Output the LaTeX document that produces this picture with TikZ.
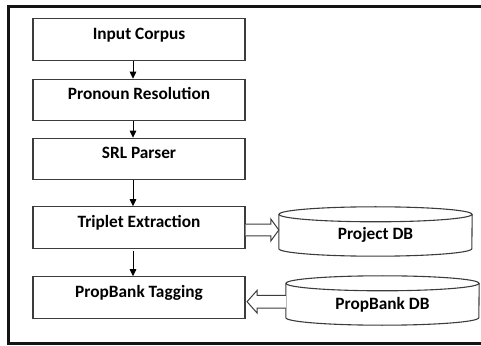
\documentclass[tikz,border=0pt]{standalone}
\usepackage{fontspec}
\setmainfont{Carlito}
\usepackage{tikz}
\usetikzlibrary{arrows.meta, positioning, calc}
\definecolor{boxgray}{RGB}{60,60,60}
\definecolor{framegray}{RGB}{20,20,20}

\begin{document}
\begin{tikzpicture}[
  x=1pt, y=1pt,
  font=\fontsize{17.3}{19}\selectfont\bfseries,
  stage/.style={rectangle, draw=boxgray, line width=1.1pt, minimum width=212pt,
    minimum height=41.5pt, inner sep=0pt, text height=11pt, text depth=11pt, align=center},
  dbnode/.style={rectangle, minimum width=193pt, minimum height=49pt, inner sep=0pt,
    text height=19pt, text depth=2pt, align=center},
  dbline/.style={draw=boxgray, line width=1.1pt},
  arrow/.style={-{Triangle[width=6.5pt, length=7pt]}, line width=1pt, black},
  hollow/.style={draw=boxgray, line width=1pt, fill=white},
]
\useasboundingbox (0,0) rectangle (481,345);

% === outer frame ===
\draw[framegray, line width=3pt] (490,338.5) -- (8.5,338.5) -- (8.5,1.5) -- (490,1.5);

% === pipeline stages ===
\node[stage] (corpus)  at (139,305.5) {Input Corpus};
\node[stage] (pronoun) at (139,245)   {Pronoun Resolution};
\node[stage] (srl)     at (139,186)   {SRL Parser};
\node[stage] (triplet) at (139,117.5) {Triplet Extraction};
\node[stage] (tagging) at (139,47.5)  {PropBank Tagging};

% === databases ===
\node[dbnode] (projdb) at (375.5,113.5) {Project DB};
\node[dbnode] (propdb) at (382.5,44.5)  {PropBank DB};

\foreach \db in {projdb, propdb}{
  \draw[dbline] ([yshift=-7.5pt]\db.north west) -- ([yshift=7.5pt]\db.south west)
    arc[start angle=180, end angle=360, x radius=96.5pt, y radius=7.5pt]
    -- ([yshift=-7.5pt]\db.north east);
  \draw[dbline] ([yshift=-7.5pt]\db.north) ellipse [x radius=96.5pt, y radius=7.5pt];
}

% === flow arrows ===
\draw[arrow] ([xshift=-6pt]corpus.south)  -- ([xshift=-6pt]pronoun.north);
\draw[arrow] ([xshift=-6pt]pronoun.south) -- ([xshift=-6pt]srl.north);
\draw[arrow] ([xshift=-6pt]srl.south)     -- ([xshift=-6pt]triplet.north);
\draw[arrow] ([xshift=-6pt,yshift=-2pt]triplet.south) -- ([xshift=-6pt]tagging.north);

% === hollow arrows to/from the databases ===
\coordinate (outA) at ([yshift=-2.5pt]triplet.east);
\coordinate (inA)  at (projdb.west |- outA);
\draw[hollow] ($(outA)+(0,5.8)$) -- ($(inA)+(-8,5.8)$) -- ($(inA)+(-8,11)$) -- (inA)
  -- ($(inA)+(-8,-11)$) -- ($(inA)+(-8,-5.8)$) -- ($(outA)+(0,-5.8)$);

\coordinate (outB) at ([yshift=-1.2pt]propdb.west);
\coordinate (inB)  at ([xshift=1.5pt]tagging.east |- outB);
\draw[hollow] ($(outB)+(0,6.3)$) -- ($(inB)+(10,6.3)$) -- ($(inB)+(10,11.3)$) -- (inB)
  -- ($(inB)+(10,-11.3)$) -- ($(inB)+(10,-6.3)$) -- ($(outB)+(0,-6.3)$);

\end{tikzpicture}
\end{document}
